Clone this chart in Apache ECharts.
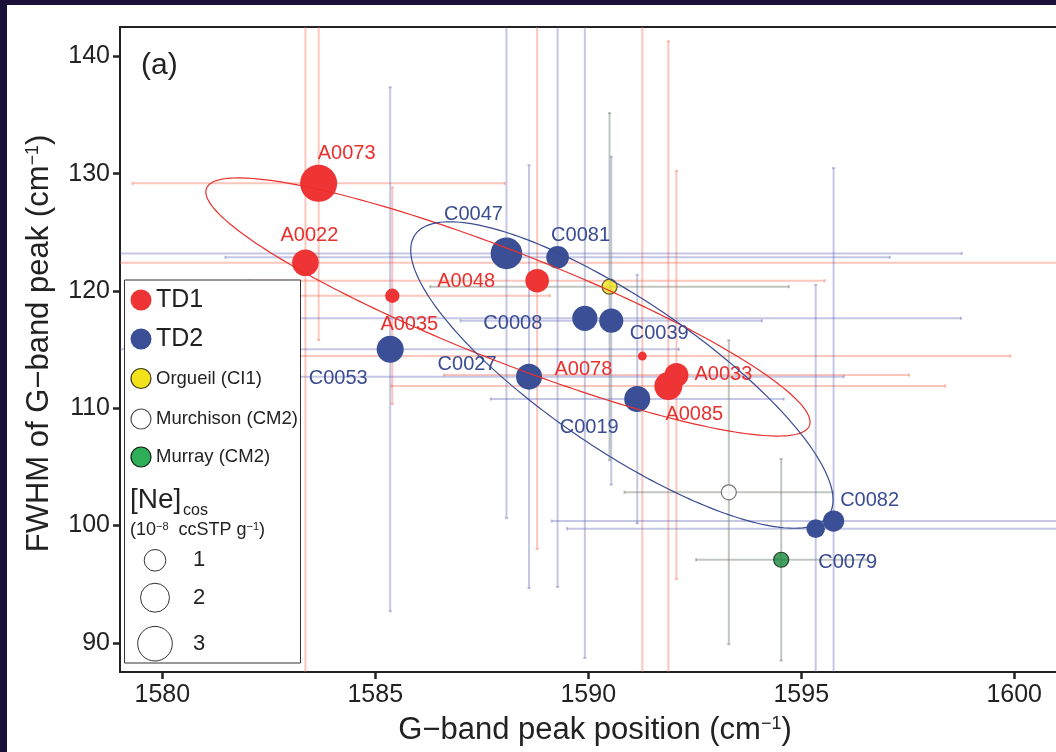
<!DOCTYPE html>
<html>
<head>
<meta charset="utf-8">
<script src="https://cdn.jsdelivr.net/npm/echarts@6/dist/echarts.min.js"></script>
<style>
html,body{margin:0;padding:0;width:1056px;height:752px;background:#1b1038;overflow:hidden;}
#paper{position:absolute;left:7px;top:5px;right:0;bottom:0;background:#ffffff;}
#chart{position:absolute;left:0;top:0;width:1071px;height:752px;}
</style>
</head>
<body>
<div id="paper"></div>
<div id="chart"></div>
<script>
// ---------- data ----------
const xTicks = [1580, 1585, 1590, 1595, 1600];
const yTicks = [90, 100, 110, 120, 130, 140];

const td1Ids     = ['A0073', 'A0022', 'A0035', 'A0048', 'A0078', 'A0033', 'A0085'];
const td1Pos     = [1583.67, 1583.36, 1585.40, 1588.80, 1591.27, 1592.07, 1591.88];
const td1Fwhm    = [129.17, 122.40, 119.59, 120.87, 114.45, 112.83, 111.89];
const td1PosErr  = [4.37, 18.0, 3.7, 6.75, 8.64, 5.46, 6.5];
const td1FwhmErr = [13.36, 36.0, 9.23, 22.87, 30.0, 17.4, 29.4];
const td1Ne      = [3.49, 1.64, 0.35, 1.24, 0.08, 1.29, 1.85];

const td2Ids     = ['C0047', 'C0081', 'C0008', 'C0039', 'C0053', 'C0027', 'C0019', 'C0079', 'C0082'];
const td2Pos     = [1588.08, 1589.28, 1589.92, 1590.54, 1585.35, 1588.61, 1591.15, 1595.34, 1595.76];
const td2Fwhm    = [123.20, 122.86, 117.66, 117.46, 115.02, 112.69, 110.78, 99.73, 100.38];
const td2PosErr  = [10.69, 7.8, 8.83, 3.54, 6.78, 7.39, 3.44, 5.84, 6.62];
const td2FwhmErr = [22.57, 28.1, 28.96, 13.98, 22.34, 18.03, 10.6, 20.78, 30.1];
const td2Ne      = [2.44, 1.12, 1.45, 1.31, 1.70, 1.56, 1.56, 0.69, 0.96];

const refNames   = ['Orgueil (CI1)', 'Murchison (CM2)', 'Murray (CM2)'];
const refPos     = [1590.50, 1593.30, 1594.53];
const refFwhm    = [120.36, 102.83, 97.08];
const refPosErr  = [4.21, 2.45, 2.0];
const refFwhmErr = [14.8, 12.96, 8.6];

// confidence ellipses: centre and half-axis vectors (data units)
const td1EllipseCenter = [1588.115, 118.63];
const td1EllipseMajor  = [7.077, -10.12];
const td1EllipseMinor  = [-0.469, -4.32];
const td2EllipseCenter = [1590.79, 112.83];
const td2EllipseMajor  = [4.859, -11.94];
const td2EllipseMinor  = [-0.984, -5.30];

const neLegendValues = [1, 2, 3];

// ---------- styling / layout ----------
const FONT = '"Liberation Sans", Arial, sans-serif';
const RED = '#ee3434', BLUE = '#3a4f96';
const RED_TXT = '#e8302e', BLUE_TXT = '#3a4c92';
const REF_FILL = ['#f2e21c', '#ffffff', '#16893d'];
const REF_STROKE = ['#3a3a20', '#555555', '#102010'];
const ERR_RED = 'rgba(245,120,95,0.42)';
const ERR_BLUE = 'rgba(95,100,180,0.36)';
const ERR_GRAY = 'rgba(115,130,115,0.45)';
const td1LabelOffset = [[28,-30],[4,-27],[17,29],[-71,1],[-59,13],[47,-1],[26,28]];
const td2LabelOffset = [[-33,-39],[23,-22],[-72,5],[48,13],[-52,29],[-62,-12],[-48,28],[32,34],[36,-21]];

function radiusOf(ne) { return 1.92 + 8.88 * Math.sqrt(ne); }

function errorSeries(xs, ys, exs, eys, color) {
  return {
    type: 'custom', z: 1, silent: true,
    data: xs.map((x, i) => [x, ys[i], exs[i], eys[i]]),
    renderItem(params, api) {
      const cs = params.coordSys;
      const x = api.value(0), y = api.value(1), ex = api.value(2), ey = api.value(3);
      const c = api.coord([x, y]);
      const l = api.coord([x - ex, y]), r = api.coord([x + ex, y]);
      const t = api.coord([x, y + ey]), b = api.coord([x, y - ey]);
      const x0 = cs.x, x1 = cs.x + cs.width, y0 = cs.y, y1 = cs.y + cs.height;
      const st = { stroke: color, lineWidth: 2 };
      const ch = [];
      ch.push({ type: 'line', shape: { x1: Math.max(l[0], x0), y1: c[1], x2: Math.min(r[0], x1), y2: c[1] }, style: st });
      ch.push({ type: 'line', shape: { x1: c[0], y1: Math.max(t[1], y0), x2: c[0], y2: Math.min(b[1], y1) }, style: st });
      const cap = 1.6;
      if (l[0] >= x0) ch.push({ type: 'line', shape: { x1: l[0], y1: c[1] - cap, x2: l[0], y2: c[1] + cap }, style: st });
      if (r[0] <= x1) ch.push({ type: 'line', shape: { x1: r[0], y1: c[1] - cap, x2: r[0], y2: c[1] + cap }, style: st });
      if (t[1] >= y0) ch.push({ type: 'line', shape: { x1: c[0] - cap, y1: t[1], x2: c[0] + cap, y2: t[1] }, style: st });
      if (b[1] <= y1) ch.push({ type: 'line', shape: { x1: c[0] - cap, y1: b[1], x2: c[0] + cap, y2: b[1] }, style: st });
      return { type: 'group', children: ch };
    }
  };
}

function ellipseSeries(center, major, minor, color) {
  return {
    type: 'custom', z: 5, silent: true,
    data: [[center[0], center[1]]],
    renderItem(params, api) {
      const pts = [];
      for (let k = 0; k <= 240; k++) {
        const a = 2 * Math.PI * k / 240;
        pts.push(api.coord([
          center[0] + major[0] * Math.cos(a) + minor[0] * Math.sin(a),
          center[1] + major[1] * Math.cos(a) + minor[1] * Math.sin(a)
        ]));
      }
      return { type: 'polyline', shape: { points: pts }, style: { stroke: color, lineWidth: 1.2, fill: null } };
    }
  };
}

function groupSeries(ids, xs, ys, ne, offsets, fill, txt) {
  return {
    type: 'scatter', z: 3, silent: true,
    data: ids.map((id, i) => ({ value: [xs[i], ys[i], ne[i], id], label: { offset: offsets[i] } })),
    symbol: 'circle',
    symbolSize: v => 2 * radiusOf(v[2]),
    itemStyle: { color: fill, opacity: 1 },
    label: {
      show: true, position: 'inside', formatter: p => p.value[3],
      color: txt, fontSize: 20, fontFamily: FONT
    },
    emphasis: { disabled: true }
  };
}

const refSeries = {
  type: 'scatter', z: 3, silent: true,
  data: refNames.map((n, i) => ({
    value: [refPos[i], refFwhm[i]],
    itemStyle: { color: REF_FILL[i], borderColor: REF_STROKE[i], borderWidth: 1.2 }
  })),
  symbol: 'circle', symbolSize: 15,
  emphasis: { disabled: true }
};

// ---------- legend (graphic) ----------
const LEGEND_FILL = ['#f2e21c', '#ffffff', '#2fae5a'];
const legendItems = [];
legendItems.push({ type: 'rect', z: 100, shape: { x: 124.5, y: 280, width: 176, height: 383 },
  style: { fill: '#ffffff', stroke: '#333333', lineWidth: 1 } });
const grpRows = [{ label: 'TD1', fill: RED, stroke: null, y: 300, big: true },
                 { label: 'TD2', fill: BLUE, stroke: null, y: 339, big: true }];
refNames.forEach((n, i) => grpRows.push({ label: n, fill: LEGEND_FILL[i], stroke: REF_STROKE[i], y: [378.5, 419, 457][i], big: false }));
grpRows.forEach(r => {
  legendItems.push({ type: 'circle', z: 101, shape: { cx: 141, cy: r.y, r: r.big ? 10.5 : 10 },
    style: { fill: r.fill, stroke: r.stroke, lineWidth: r.stroke ? 1.2 : 0 } });
  legendItems.push({ type: 'text', z: 101, style: { x: 156, y: r.y, text: r.label,
    font: (r.big ? '25px ' : '18.5px ') + FONT, fill: '#222', textAlign: 'left', textVerticalAlign: 'middle' } });
});
legendItems.push({ type: 'text', z: 101, style: { x: 130, y: 500, text: '[Ne]', font: '28px ' + FONT,
  fill: '#222', textAlign: 'left', textVerticalAlign: 'middle' } });
legendItems.push({ type: 'text', z: 101, style: { x: 183, y: 511, text: 'cos', font: '16px ' + FONT,
  fill: '#222', textAlign: 'left', textVerticalAlign: 'middle' } });
legendItems.push({ type: 'text', z: 101, style: { x: 130, y: 530,
  text: '(10{s|−8}  ccSTP g{s|−1})', font: '18px ' + FONT, fill: '#222', textAlign: 'left', textVerticalAlign: 'middle',
  rich: { s: { fontSize: 11, fontFamily: FONT, fill: '#222', verticalAlign: 'top', lineHeight: 11 } } } });
const sizeRowY = [560.3, 597.7, 643.7];
neLegendValues.forEach((v, i) => {
  legendItems.push({ type: 'circle', z: 101, shape: { cx: 155, cy: sizeRowY[i], r: radiusOf(v) },
    style: { fill: 'none', stroke: '#333333', lineWidth: 1 } });
  legendItems.push({ type: 'text', z: 101, style: { x: 199, y: sizeRowY[i], text: String(v), font: '22px ' + FONT,
    fill: '#222', textAlign: 'center', textVerticalAlign: 'middle' } });
});
legendItems.push({ type: 'text', z: 101, style: { x: 141, y: 66, text: '(a)', font: '30px ' + FONT,
  fill: '#222', textAlign: 'left', textVerticalAlign: 'middle' } });

// ---------- chart ----------
const chart = echarts.init(document.getElementById('chart'), null, { renderer: 'canvas' });
const supRich = { fontSize: 18, fontFamily: FONT, color: '#222', verticalAlign: 'top', lineHeight: 18 };
chart.setOption({
  animation: false,
  backgroundColor: 'transparent',
  grid: { left: 120, top: 27, right: 1, bottom: 80, show: true, borderColor: '#222', borderWidth: 2, backgroundColor: 'transparent' },
  xAxis: {
    type: 'value', min: 1579.007, max: 1601.31,
    name: 'G−band peak position (cm{s|−1})', nameLocation: 'middle', nameGap: 43,
    nameTextStyle: { fontSize: 31, fontFamily: FONT, color: '#222', rich: { s: supRich } },
    axisLine: { show: true, lineStyle: { color: '#222', width: 2 } },
    axisTick: { show: true, inside: false, length: 7, lineStyle: { color: '#222', width: 2.5 }, customValues: xTicks },
    axisLabel: { fontSize: 25, fontFamily: FONT, color: '#222', margin: 11, customValues: xTicks, formatter: v => String(v) },
    splitLine: { show: false }
  },
  yAxis: {
    type: 'value', min: 87.51, max: 142.5,
    name: 'FWHM of G−band peak (cm{s|−1})', nameLocation: 'middle', nameGap: 65, nameRotate: 90,
    nameTextStyle: { fontSize: 31, fontFamily: FONT, color: '#222', rich: { s: supRich }, padding: [0, 0, 0, 12] },
    axisLine: { show: true, lineStyle: { color: '#222', width: 2 } },
    axisTick: { show: true, inside: false, length: 7, lineStyle: { color: '#222', width: 2.5 }, customValues: yTicks },
    axisLabel: { fontSize: 25, fontFamily: FONT, color: '#222', margin: 10, customValues: yTicks, formatter: v => String(v) },
    splitLine: { show: false }
  },
  graphic: { elements: legendItems },
  series: [
    errorSeries(td1Pos, td1Fwhm, td1PosErr, td1FwhmErr, ERR_RED),
    errorSeries(td2Pos, td2Fwhm, td2PosErr, td2FwhmErr, ERR_BLUE),
    errorSeries(refPos, refFwhm, refPosErr, refFwhmErr, ERR_GRAY),
    groupSeries(td1Ids, td1Pos, td1Fwhm, td1Ne, td1LabelOffset, RED, RED_TXT),
    groupSeries(td2Ids, td2Pos, td2Fwhm, td2Ne, td2LabelOffset, BLUE, BLUE_TXT),
    refSeries,
    ellipseSeries(td1EllipseCenter, td1EllipseMajor, td1EllipseMinor, '#e8302e'),
    ellipseSeries(td2EllipseCenter, td2EllipseMajor, td2EllipseMinor, '#3a4c92')
  ]
});
</script>
</body>
</html>
